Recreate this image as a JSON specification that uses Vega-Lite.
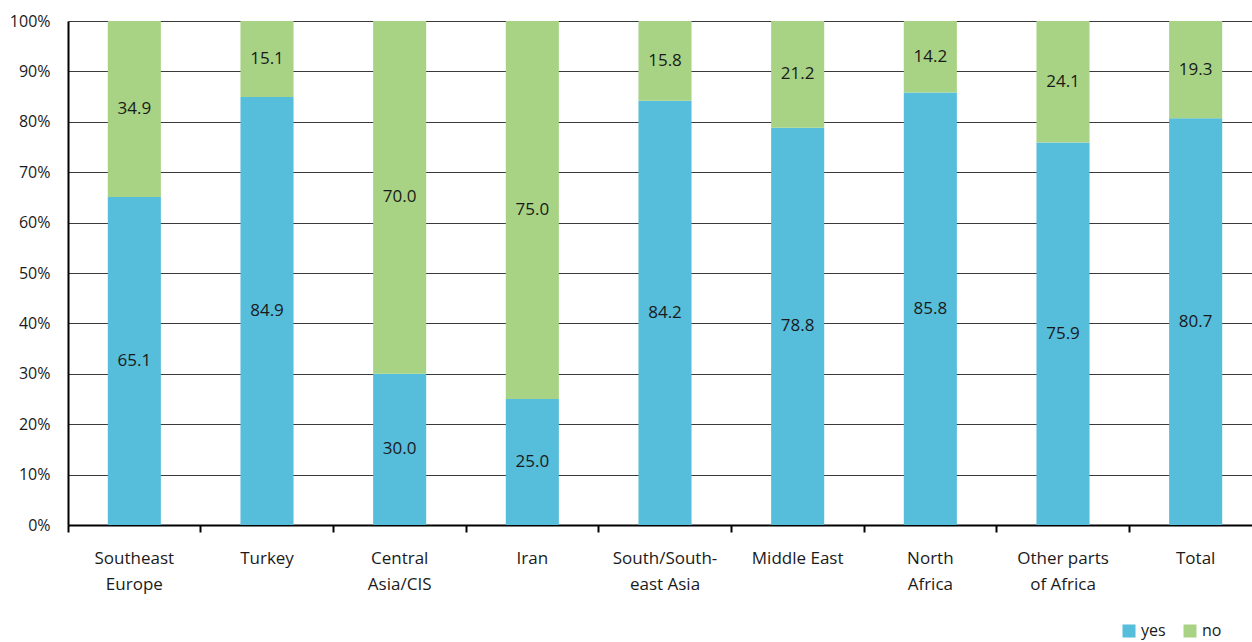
{
  "$schema": "https://vega.github.io/schema/vega-lite/v6.json",
  "width": 1184,
  "height": 504,
  "autosize": {"type": "none"},
  "padding": {"left": 68, "top": 21, "right": 0, "bottom": 117},
  "background": "white",
  "config": {
    "font": "Open Sans",
    "view": {"stroke": null},
    "axis": {"labelFont": "Open Sans", "labelColor": "#1a1a1a", "labelFontSize": 16},
    "legend": {"labelFont": "Open Sans"}
  },
  "data": {
    "values": [
      {"region": "Southeast\nEurope", "answer": "yes", "value": 65.1},
      {"region": "Southeast\nEurope", "answer": "no", "value": 34.9},
      {"region": "Turkey", "answer": "yes", "value": 84.9},
      {"region": "Turkey", "answer": "no", "value": 15.1},
      {"region": "Central\nAsia/CIS", "answer": "yes", "value": 30.0},
      {"region": "Central\nAsia/CIS", "answer": "no", "value": 70.0},
      {"region": "Iran", "answer": "yes", "value": 25.0},
      {"region": "Iran", "answer": "no", "value": 75.0},
      {"region": "South/South-\neast Asia", "answer": "yes", "value": 84.2},
      {"region": "South/South-\neast Asia", "answer": "no", "value": 15.8},
      {"region": "Middle East", "answer": "yes", "value": 78.8},
      {"region": "Middle East", "answer": "no", "value": 21.2},
      {"region": "North\nAfrica", "answer": "yes", "value": 85.8},
      {"region": "North\nAfrica", "answer": "no", "value": 14.2},
      {"region": "Other parts\nof Africa", "answer": "yes", "value": 75.9},
      {"region": "Other parts\nof Africa", "answer": "no", "value": 24.1},
      {"region": "Total", "answer": "yes", "value": 80.7},
      {"region": "Total", "answer": "no", "value": 19.3}
    ]
  },
  "transform": [
    {"stack": "value", "groupby": ["region"], "sort": [{"field": "answer", "order": "descending"}], "as": ["y0", "y1"]},
    {"calculate": "(datum.y0 + datum.y1) / 2", "as": "mid"}
  ],
  "encoding": {
    "x": {
      "field": "region",
      "type": "nominal",
      "sort": null,
      "scale": {"range": [0, 1194], "paddingInner": 0, "paddingOuter": 0},
      "axis": {
        "title": null,
        "labelAngle": 0,
        "bandPosition": 0,
        "labelExpr": "split(datum.label, '\\n')",
        "labelFontSize": 17,
        "labelLineHeight": 26,
        "labelBaseline": "top",
        "labelPadding": 18,
        "tickSize": 7,
        "tickWidth": 2,
        "tickColor": "#000000",
        "domainColor": "#000000",
        "domainWidth": 2,
        "labelColor": "#1a1a1a"
      }
    }
  },
  "layer": [
    {
      "mark": {"type": "bar", "width": {"band": 0.4}},
      "encoding": {
        "y": {
          "field": "y1",
          "type": "quantitative",
          "scale": {"domain": [0, 100], "nice": false},
          "axis": {
            "title": null,
            "values": [0, 10, 20, 30, 40, 50, 60, 70, 80, 90, 100],
            "labelExpr": "datum.value + '%'",
            "ticks": false,
            "labelPadding": 18,
            "grid": true,
            "gridColor": "#3a3a3a",
            "gridWidth": 1,
            "gridOpacity": 1,
            "domainColor": "#000000",
            "domainWidth": 2
          }
        },
        "y2": {"field": "y0"},
        "color": {
          "field": "answer",
          "type": "nominal",
          "scale": {"domain": ["yes", "no"], "range": ["#56bdda", "#a8d384"]},
          "legend": {
            "title": null,
            "orient": "none",
            "direction": "horizontal",
            "legendX": 1053,
            "legendY": 602,
            "symbolType": "square",
            "symbolSize": 169,
            "symbolStrokeWidth": 0,
            "symbolOpacity": 1,
            "labelFontSize": 16,
            "labelOffset": 4,
            "columnPadding": 16,
            "padding": 0,
            "labelColor": "#1a1a1a"
          }
        }
      }
    },
    {
      "mark": {"type": "text", "fontSize": 17, "color": "#1a1a1a", "baseline": "middle", "align": "center"},
      "encoding": {
        "y": {"field": "mid", "type": "quantitative"},
        "text": {"field": "value", "type": "quantitative", "format": ".1f"}
      }
    }
  ]
}
